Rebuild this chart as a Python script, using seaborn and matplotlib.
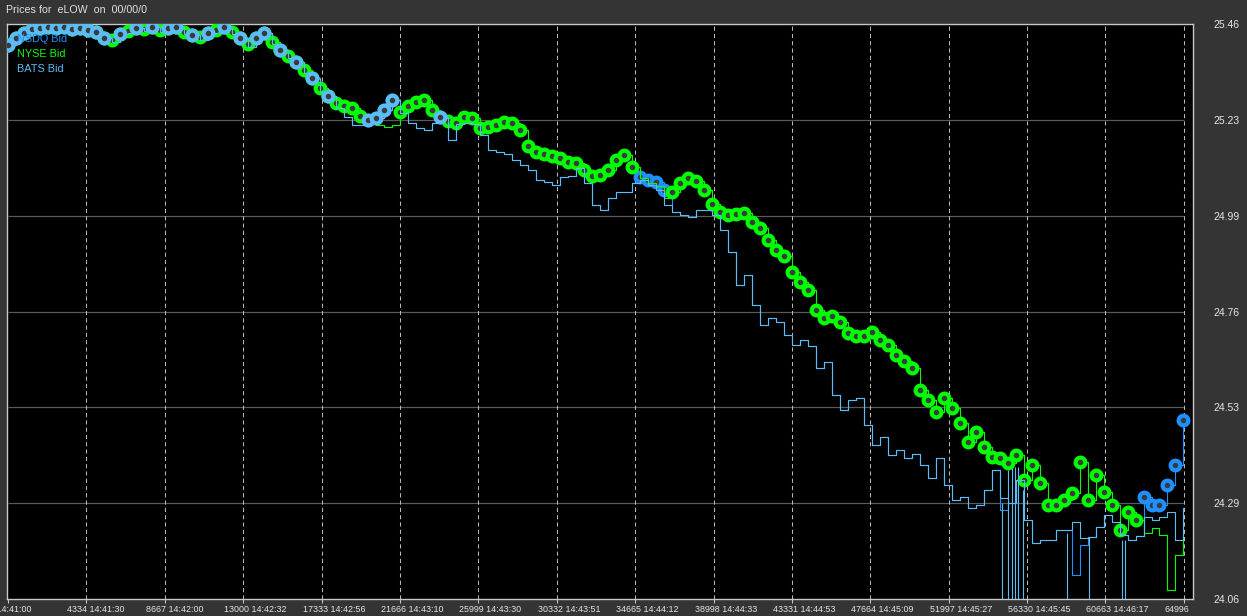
import numpy as np
import seaborn as sns
import matplotlib.pyplot as plt
from matplotlib.transforms import ScaledTranslation

# one reading every `step` ticks
step = 442

nsdq_bid = [
    25.409, 25.426, 25.438, 25.448, 25.450, 25.453, 25.450, 25.453, 25.448, 25.450,
    25.445, 25.441, 25.426, 25.416, 25.436, 25.438, 25.450, 25.443, 25.453, 25.441,
    25.450, 25.453, 25.436, 25.433, 25.421, 25.438, 25.438, 25.453, 25.436, 25.426,
    25.404, 25.426, 25.438, 25.411, 25.397, 25.377, 25.367, 25.341, 25.329, 25.294,
    25.285, 25.255, 25.234, 25.214, 25.214, 25.226, 25.231, 25.251, 25.275, 25.243,
    25.219, 25.207, 25.202, 25.219, 25.234, 25.178, 25.217, 25.219, 25.217, 25.190,
    25.153, 25.148, 25.143, 25.129, 25.117, 25.104, 25.080, 25.075, 25.068, 25.087,
    25.090, 25.109, 25.073, 25.019, 25.007, 25.036, 25.051, 25.051, 25.073, 25.087,
    25.080, 25.075, 25.056, 25.002, 24.995, 24.990, 25.007, 25.007, 24.995, 24.958,
    24.905, 24.824, 24.849, 24.776, 24.727, 24.744, 24.734, 24.703, 24.678, 24.691,
    24.676, 24.622, 24.637, 24.557, 24.520, 24.544, 24.549, 24.484, 24.435, 24.454,
    24.411, 24.423, 24.403, 24.413, 24.386, 24.355, 24.403, 24.338, 24.301, 24.308,
    24.281, 24.289, 24.325, 24.374, 24.277, 24.294, 24.350, 24.252, 24.196, 24.204,
    24.204, 24.228, 24.228, 24.118, 24.191, 24.211, 24.235, 24.264, 24.247, 24.216,
    24.204, 24.213, 24.308, 24.289, 24.289, 24.338, 24.386, 24.496,
]

nyse_bid = [
    25.409, 25.426, 25.438, 25.448, 25.450, 25.453, 25.450, 25.453, 25.448, 25.450,
    25.445, 25.441, 25.426, 25.421, 25.436, 25.443, 25.450, 25.448, 25.453, 25.445,
    25.450, 25.453, 25.441, 25.433, 25.428, 25.438, 25.445, 25.453, 25.441, 25.426,
    25.411, 25.426, 25.438, 25.416, 25.397, 25.382, 25.367, 25.348, 25.329, 25.304,
    25.285, 25.268, 25.260, 25.255, 25.236, 25.219, 25.214, 25.209, 25.214, 25.246,
    25.260, 25.270, 25.275, 25.251, 25.231, 25.224, 25.219, 25.234, 25.231, 25.207,
    25.209, 25.214, 25.221, 25.219, 25.202, 25.163, 25.148, 25.143, 25.139, 25.134,
    25.124, 25.122, 25.104, 25.090, 25.092, 25.104, 25.129, 25.141, 25.112, 25.085,
    25.073, 25.066, 25.036, 25.051, 25.073, 25.085, 25.078, 25.056, 25.022, 25.002,
    24.995, 24.997, 25.000, 24.978, 24.963, 24.934, 24.910, 24.895, 24.856, 24.832,
    24.812, 24.764, 24.744, 24.749, 24.734, 24.708, 24.700, 24.700, 24.710, 24.691,
    24.678, 24.654, 24.639, 24.622, 24.569, 24.544, 24.515, 24.549, 24.525, 24.488,
    24.442, 24.467, 24.430, 24.406, 24.403, 24.391, 24.411, 24.350, 24.386, 24.342,
    24.289, 24.289, 24.301, 24.318, 24.394, 24.301, 24.362, 24.320, 24.289, 24.228,
    24.272, 24.252, 24.221, 24.233, 24.216, 24.082, 24.167, 24.204,
]

bats_bid = [
    25.409, 25.426, 25.438, 25.448, 25.450, 25.453, 25.450, 25.453, 25.448, 25.450,
    25.445, 25.441, 25.426, 25.416, 25.436, 25.438, 25.450, 25.443, 25.453, 25.441,
    25.450, 25.453, 25.436, 25.433, 25.421, 25.438, 25.438, 25.453, 25.436, 25.426,
    25.404, 25.426, 25.438, 25.411, 25.397, 25.377, 25.367, 25.341, 25.329, 25.294,
    25.285, 25.255, 25.234, 25.214, 25.214, 25.226, 25.231, 25.251, 25.275, 25.243,
    25.219, 25.207, 25.202, 25.219, 25.234, 25.178, 25.217, 25.219, 25.217, 25.190,
    25.153, 25.148, 25.143, 25.129, 25.117, 25.104, 25.080, 25.075, 25.068, 25.087,
    25.090, 25.109, 25.073, 25.019, 25.007, 25.036, 25.051, 25.051, 25.073, 25.080,
    25.068, 25.056, 25.019, 25.002, 24.995, 24.990, 25.007, 25.007, 24.995, 24.958,
    24.905, 24.824, 24.849, 24.776, 24.727, 24.744, 24.734, 24.703, 24.678, 24.691,
    24.676, 24.622, 24.637, 24.557, 24.520, 24.544, 24.549, 24.484, 24.435, 24.454,
    24.411, 24.423, 24.403, 24.413, 24.386, 24.355, 24.403, 24.338, 24.301, 24.308,
    24.281, 24.289, 24.325, 24.374, 24.306, 24.294, 24.350, 24.252, 24.196, 24.204,
    24.204, 24.228, 24.228, 24.247, 24.208, 24.211, 24.235, 24.264, 24.247, 24.216,
    24.204, 24.213, 24.260, 24.252, 24.260, 24.272, 24.204, 24.281,
]

# BATS quotes that dropped to nothing for a moment
bats_drop_x = [54938, 55270, 55491, 55657, 55823, 56099, 58531, 59747, 61571, 61737]
bats_drop_top = [24.294, 24.374, 24.379, 24.381, 24.381, 24.325, 24.221, 24.211, 24.204, 24.204]

tick_ids = [1, 4334, 8667, 13000, 17333, 21666, 25999, 30332, 34665,
            38998, 43331, 47664, 51997, 56330, 60663, 64996]
tick_times = ['14:41:00', '14:41:30', '14:42:00', '14:42:32', '14:42:56', '14:43:10',
              '14:43:30', '14:43:51', '14:44:12', '14:44:33', '14:44:53', '14:45:09',
              '14:45:27', '14:45:45', '14:46:17', '']

price_min, price_max = 24.06, 25.46

series = [
    ('NSDQ Bid', nsdq_bid, '#1e90ff'),
    ('NYSE Bid', nyse_bid, '#00ff00'),
    ('BATS Bid', bats_bid, '#5cbcf4'),
]

sns.set_style('dark', {'axes.facecolor': 'black', 'figure.facecolor': '#343434'})
plt.rcParams['font.family'] = ['Liberation Sans', 'DejaVu Sans']

fig = plt.figure(figsize=(12.47, 6.16), dpi=100)
ax = fig.add_axes([7 / 1247, 17 / 616, 1186 / 1247, 575 / 616])

x = np.arange(len(nyse_bid)) * step
best = np.maximum.reduce([np.array(s[1]) for s in series])

for i, (name, values, color) in enumerate(series):
    values = np.array(values)
    # circles where this exchange holds the best bid
    is_best = list(values >= best - 1e-9)
    sns.lineplot(x=x, y=values, ax=ax, color=color, linewidth=0.8,
                 drawstyle='steps-post', estimator=None, sort=False, legend=False,
                 marker='o', markevery=is_best, markersize=7,
                 markerfacecolor='#3a3a3a', markeredgecolor=color,
                 markeredgewidth=3.0, zorder=3 + i)

ax.vlines(bats_drop_x, 0, bats_drop_top, color='#5cbcf4', linewidth=0.8, zorder=6)

# grid
y_ticks = np.linspace(price_min, price_max, 7)
ax.hlines(y_ticks[1:-1], 0, tick_ids[-1], color='#5a5a5a', linewidth=0.9, zorder=1)
ax.vlines(tick_ids[1:], price_min, price_max, color='#b8b8b8', linewidth=0.75,
          linestyle=(0, (4, 3)), zorder=1)

ax.set_xlim(-60, 65500)
ax.set_ylim(price_min, price_max)

ax.set_xticks(tick_ids)
ax.set_xticklabels([f'{t} {s}'.strip() for t, s in zip(tick_ids, tick_times)])
ax.tick_params(axis='x', colors='#c8c8c8', labelcolor='#e6e6e6', labelsize=6.4,
               length=3, width=0.75, direction='out', pad=1, bottom=True)
shift = ScaledTranslation(-0.19, 0, fig.dpi_scale_trans)
for lab in ax.get_xticklabels():
    lab.set_horizontalalignment('left')
    lab.set_transform(lab.get_transform() + shift)

ax.yaxis.tick_right()
ax.set_yticks(y_ticks)
ax.set_yticklabels([f'{v:.2f}' for v in y_ticks])
ax.tick_params(axis='y', length=0, pad=15, labelsize=7.5, labelcolor='#e6e6e6')

ax.set_xlabel('')
ax.set_ylabel('')
ax.grid(False)
for sp in ax.spines.values():
    sp.set_color('#c8c8c8')
    sp.set_linewidth(1.0)
    sp.set_visible(True)

# legend as coloured names
for k, (name, values, color) in enumerate(series):
    ax.text(0.0084, 0.974 - k * 0.0265, name, color=color, fontsize=7.8,
            ha='left', va='center', transform=ax.transAxes, zorder=10)

fig.text(6 / 1247, 1 - 10 / 616, 'Prices for  eLOW  on  00/00/0', color='#e0e0e0',
         fontsize=7.7, ha='left', va='center')

plt.savefig('out.png', dpi=100, facecolor=fig.get_facecolor())
